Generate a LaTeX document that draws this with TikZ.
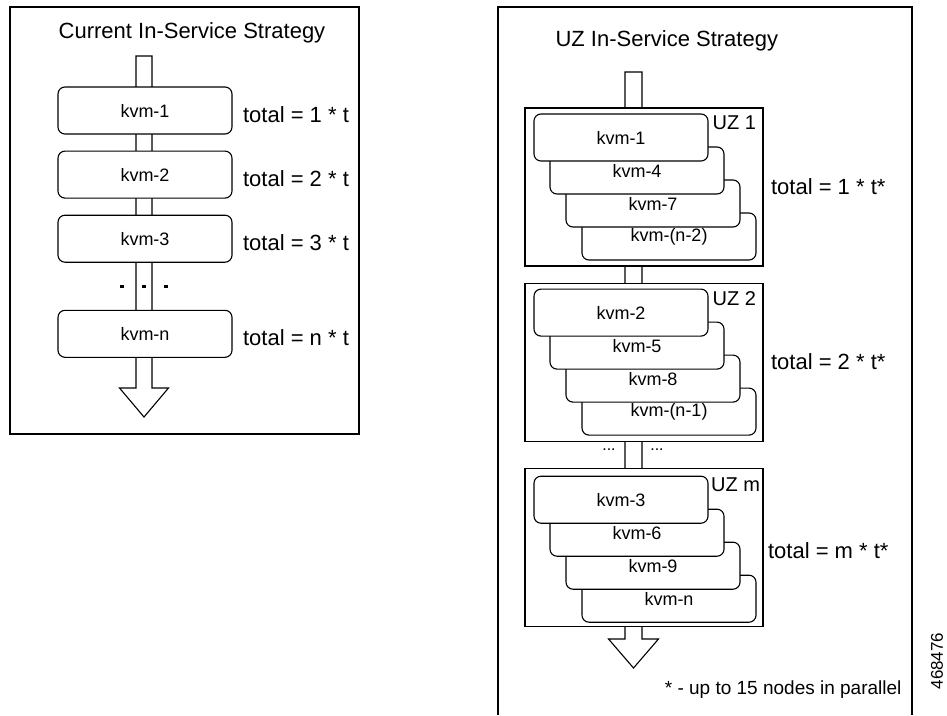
\documentclass[tikz,border=0pt]{standalone}
\usepackage{fontspec}
\setmainfont{Liberation Sans}
\usetikzlibrary{calc}
\usetikzlibrary{positioning}

\begin{document}
\begin{tikzpicture}[x=1pt, y=-1pt, line width=1.1pt,                          % Pixel grid, y down
	kvmbox/.style={draw, fill=white, rounded corners=7pt, minimum width=174pt,
	               minimum height=47pt, inner sep=0pt, font=\fontsize{18}{20}\selectfont},
	zonebox/.style={draw, fill=white, minimum width=238pt, minimum height=158pt, inner sep=0pt},
	flow/.style={draw, fill=white, line join=miter},                        % Big flow arrow
	titletext/.style={font=\fontsize{22}{26}\selectfont, inner sep=2pt},
	totallabel/.style={font=\fontsize{22}{26}\selectfont, inner sep=2pt, anchor=west},
	zonelabel/.style={font=\fontsize{20}{24}\selectfont, inner sep=2pt},
	dotmark/.style={fill, rectangle, minimum size=3.5pt, inner sep=0pt},
	notetext/.style={font=\fontsize{19}{22}\selectfont, inner sep=2pt}]
	\useasboundingbox (0,0) rectangle (947,715);

	% Current strategy
	\draw (10,7) rectangle (359,434);
	\node[titletext] (ltitle) at (192,33) {Current In-Service Strategy};
	\coordinate (ltop) at (144,56);
	\coordinate (ltip) at (144,417);
	\draw[flow] ($(ltop)+(-8,0)$) -- ($(ltop)+(8,0)$) -- ($(ltip)+(8,-29)$) -- ($(ltip)+(24.5,-29)$)
		-- (ltip) -- ($(ltip)+(-24.5,-29)$) -- ($(ltip)+(-8,-29)$) -- cycle;
	\node[kvmbox] (c1) at (145,110.5) {kvm-1};
	\node[kvmbox, below=16pt of c1] (c2) {kvm-2};
	\node[kvmbox, below=16pt of c2] (c3) {kvm-3};
	\node[kvmbox, below=47pt of c3] (cn) {kvm-n};
	\node[totallabel, right=8pt of c1, yshift=-4pt] (t1) {total = 1 * t};
	\node[totallabel, right=8pt of c2, yshift=-4pt] (t2) {total = 2 * t};
	\node[totallabel, right=8pt of c3, yshift=-4pt] (t3) {total = 3 * t};
	\node[totallabel, right=8pt of cn, yshift=-4pt] (tn) {total = n * t};
	\node[dotmark] (d2) at ($(c3.south)!0.5!(cn.north)+(-1,0)$) {};
	\node[dotmark, left=17.5pt of d2] (d1) {};
	\node[dotmark, right=17.5pt of d2] (d3) {};

	% UZ strategy
	\draw (498,715) -- (498,7) -- (912,7) -- (912,715);
	\node[titletext, anchor=west] (rtitle) at (553,41) {UZ In-Service Strategy};
	\coordinate (rtop) at (633.5,72);
	\coordinate (rtip) at (633.5,668);
	\draw[flow] ($(rtop)+(-8.5,0)$) -- ($(rtop)+(8.5,0)$) -- ($(rtip)+(8.5,-29)$) -- ($(rtip)+(25,-29)$)
		-- (rtip) -- ($(rtip)+(-25,-29)$) -- ($(rtip)+(-8.5,-29)$) -- cycle;
	\node[zonebox] (z1) at (644,187) {};
	\node[zonebox, below=16pt of z1] (z2) {};
	\node[zonebox, below=26pt of z2] (zm) {};

	\node[kvmbox, anchor=south east] (vn2) at ($(z1.south east)+(-7,-6)$) {kvm-(n-2)};
	\node[kvmbox, on grid, above left=33pt and 16pt of vn2] (v7) {kvm-7};
	\node[kvmbox, on grid, above left=33pt and 16pt of v7] (v4) {kvm-4};
	\node[kvmbox, on grid, above left=33pt and 16pt of v4] (v1) {kvm-1};

	\node[kvmbox, anchor=south east] (vn1) at ($(z2.south east)+(-7,-6)$) {kvm-(n-1)};
	\node[kvmbox, on grid, above left=33pt and 16pt of vn1] (v8) {kvm-8};
	\node[kvmbox, on grid, above left=33pt and 16pt of v8] (v5) {kvm-5};
	\node[kvmbox, on grid, above left=33pt and 16pt of v5] (v2) {kvm-2};

	\node[kvmbox, anchor=south east] (vn) at ($(zm.south east)+(-7,-4)$) {kvm-n};
	\node[kvmbox, on grid, above left=33pt and 16pt of vn] (v9) {kvm-9};
	\node[kvmbox, on grid, above left=33pt and 16pt of v9] (v6) {kvm-6};
	\node[kvmbox, on grid, above left=33pt and 16pt of v6] (v3) {kvm-3};

	\node[zonelabel, anchor=north east] (z1name) at ($(z1.north east)+(-5,6)$) {UZ 1};
	\node[zonelabel, anchor=north east] (z2name) at ($(z2.north east)+(-5,6)$) {UZ 2};
	\node[zonelabel, anchor=north east] (zmname) at ($(zm.north east)+(-1,8)$) {UZ m};
	\node[totallabel, right=5pt of z1] (z1total) {total = 1 * t*};
	\node[totallabel, right=5pt of z2] (z2total) {total = 2 * t*};
	\node[totallabel, right=2pt of zm, yshift=-3pt] (zmtotal) {total = m * t*};
	\node[font=\fontsize{16}{18}\selectfont] (gapl) at (609,450) {...};
	\node[font=\fontsize{16}{18}\selectfont] (gapr) at (657,450) {...};

	\node[notetext, anchor=east] (note) at (904,690) {* - up to 15 nodes in parallel};
	\node[font=\fontsize{17}{20}\selectfont, rotate=90] (figid) at (937,661) {468476};
\end{tikzpicture}
\end{document}
